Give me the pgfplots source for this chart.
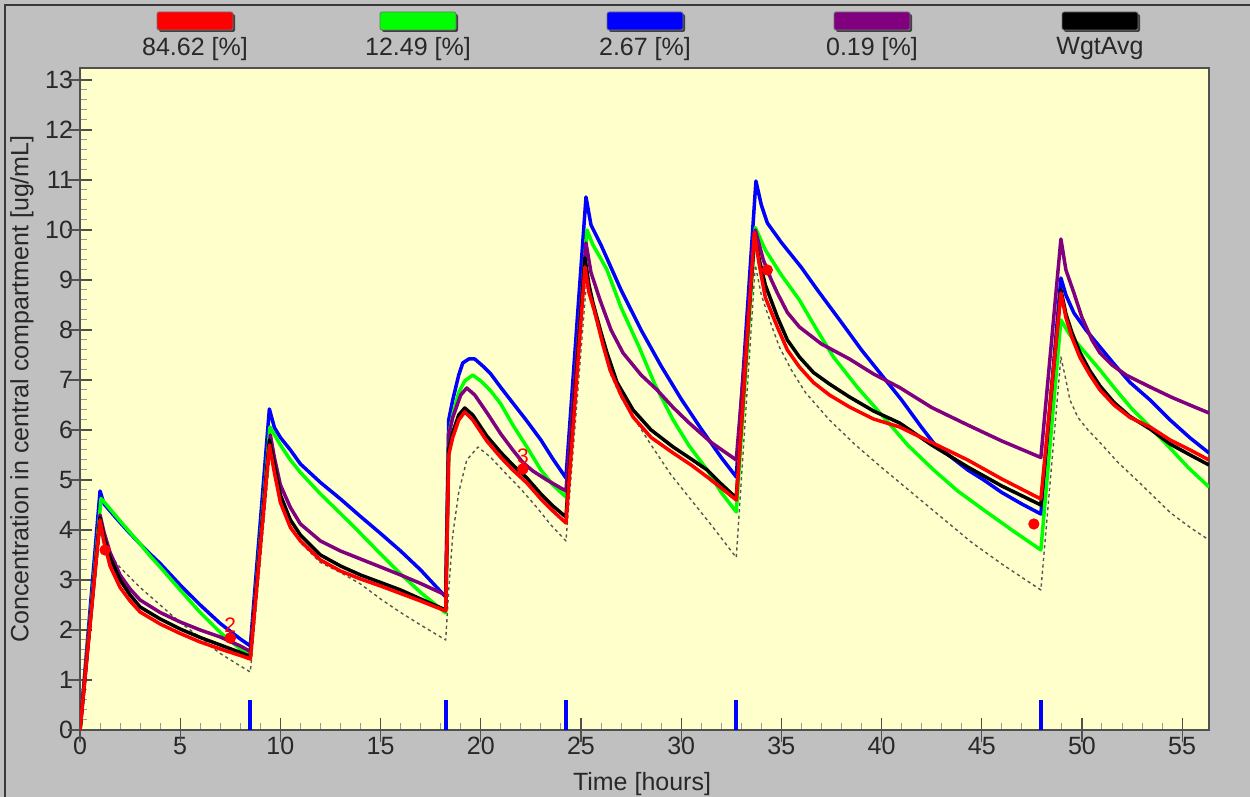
\documentclass[border=0pt]{standalone}
\usepackage{fontspec}
\setmainfont{Liberation Sans}
\usepackage{pgfplots}
\pgfplotsset{compat=1.18}
\definecolor{bggray}{RGB}{192,192,192}
\definecolor{plotbg}{RGB}{255,255,204}
\definecolor{axgray}{RGB}{80,80,80}
\definecolor{cRed}{RGB}{255,0,0}
\definecolor{cGreen}{RGB}{0,255,0}
\definecolor{cBlue}{RGB}{0,0,255}
\definecolor{cPurple}{RGB}{128,0,128}
\definecolor{txt}{RGB}{40,40,40}
\definecolor{dotc}{RGB}{85,85,85}
\newcommand{\lblfont}{\fontsize{12.5}{15}\selectfont}
\begin{document}
\begin{tikzpicture}
\path[use as bounding box] (-40pt,-33.5pt) rectangle (585pt,365pt);
\clip (-40pt,-33.5pt) rectangle (585pt,365pt);
\fill[bggray] (-40pt,-33.5pt) rectangle (585pt,365pt);
\begin{axis}[
  at={(0pt,0pt)}, anchor=south west,
  scale only axis, width=564.5pt, height=331pt,
  xmin=0, xmax=56.34, ymin=0, ymax=13.24,
  axis background/.style={fill=plotbg},
  axis line style={axgray, line width=0.8pt},
  xtick={0,5,...,55}, ytick={0,1,...,13},
  minor x tick num=4, minor y tick num=4,
  tick align=inside, xtick pos=bottom, ytick pos=left,
  major tick length=6pt, minor tick length=3.5pt,
  major tick style={axgray, line width=0.6pt},
  minor tick style={gray!80, line width=0.5pt},
  extra x ticks={0,5,...,55}, extra x tick labels={},
  extra x tick style={tick align=outside, major tick length=6pt},
  extra y ticks={0,1,...,13}, extra y tick labels={},
  extra y tick style={tick align=outside, major tick length=6pt},
  /pgf/number format/assume math mode=true,
  ticklabel style={font=\lblfont, text=txt},
  every axis plot/.append style={line join=round},
]
% dose markers
\addplot[ycomb, cBlue, line width=2pt, mark=none] coordinates {(0,0.5) (8.5,0.6) (18.25,0.6) (24.25,0.6) (32.75,0.6) (47.95,0.6)};
% dotted curve
\addplot[dotc, line width=0.7pt, dash pattern=on 1.6pt off 1.6pt] coordinates {
(0,0)(1.0,3.95)(1.3,3.6)(2,3.25)(3,2.85)(4,2.5)(5,2.15)(6,1.85)(6.5,1.68)(7,1.53)(8,1.28)(8.5,1.16)
(9.5,5.6)(10,4.6)(10.5,4.05)(11,3.75)(12,3.35)(13,3.15)(14,2.92)(15,2.62)(16,2.35)(17,2.1)(18.25,1.8)
(18.4,2.8)(18.6,3.9)(18.9,4.75)(19.3,5.4)(19.86,5.66)(20.5,5.45)(21.2,5.15)(22,4.82)(22.8,4.45)(23.5,4.1)(24.25,3.78)
(25.3,9.1)(25.6,8.4)(26,7.8)(26.5,7.1)(27,6.65)(27.8,6.14)(28.5,5.7)(29.5,5.1)(30.5,4.6)(31.5,4.1)(32.75,3.45)
(33.7,9.3)(34.0,8.7)(34.5,8.1)(34.9,7.66)(35.5,7.2)(36.2,6.75)(37.4,6.2)(38.7,5.7)(40,5.25)(41.5,4.75)(43,4.25)(44.5,3.75)(46,3.32)(47.95,2.8)
(48.95,7.46)(49.2,7.0)(49.4,6.6)(49.8,6.25)(50.3,6.0)(50.9,5.75)(51.8,5.35)(52.6,5.05)(53.4,4.74)(54.4,4.35)(55.4,4.05)(56.34,3.8)};
% blue 2.67
\addplot[cBlue, line width=1.75pt] coordinates {
(0,0)(1.0,4.78)(1.2,4.52)(1.5,4.38)(2,4.15)(2.5,3.93)(3,3.72)(3.5,3.52)(4,3.33)(5,2.9)(6,2.5)(7,2.13)(8,1.82)(8.5,1.68)
(9.45,6.42)(9.7,6.05)(10,5.85)(10.5,5.6)(11,5.32)(12,4.95)(13,4.62)(14,4.27)(15,3.93)(16,3.58)(17,3.2)(18.25,2.66)
(18.4,6.2)(18.6,6.6)(18.9,7.1)(19.1,7.34)(19.4,7.42)(19.7,7.42)(20.1,7.28)(20.5,7.12)(21,6.85)(21.6,6.54)(22.3,6.18)(23,5.8)(23.6,5.42)(24.25,5.04)
(25.25,10.66)(25.5,10.1)(26,9.7)(26.5,9.25)(27,8.8)(28,8.0)(29,7.28)(30,6.62)(31,6.02)(32,5.45)(32.75,5.06)
(33.73,10.98)(34.0,10.5)(34.3,10.14)(35,9.75)(36,9.25)(36.8,8.8)(38,8.15)(39,7.6)(39.8,7.2)(41,6.6)(42,6.05)(42.6,5.74)(43.5,5.45)(44.3,5.2)(45.1,5.0)(46,4.75)(47,4.52)(47.95,4.32)
(48.95,9.04)(49.2,8.7)(49.6,8.34)(50.2,8.0)(50.9,7.66)(51.6,7.32)(52.4,6.95)(53.4,6.6)(54.4,6.2)(55.4,5.84)(56.34,5.54)};
% green 12.49
\addplot[cGreen, line width=1.75pt] coordinates {
(0,0)(1.05,4.63)(1.5,4.42)(2,4.18)(2.5,3.95)(3,3.72)(3.5,3.48)(4,3.26)(5,2.8)(6,2.35)(7,1.95)(8,1.62)(8.5,1.5)
(9.48,6.06)(10,5.7)(10.5,5.4)(11,5.15)(12,4.72)(13,4.33)(14,3.93)(15,3.52)(16,3.12)(17,2.75)(18.25,2.34)
(18.4,5.9)(18.6,6.3)(18.9,6.75)(19.2,6.98)(19.6,7.1)(20,6.98)(20.5,6.78)(21,6.52)(21.6,6.1)(22.3,5.66)(23,5.2)(23.6,4.9)(24.25,4.66)
(25.3,10.0)(25.6,9.7)(26,9.42)(26.3,9.2)(27,8.45)(27.9,7.66)(28.7,6.9)(29.6,6.2)(30.4,5.68)(31.3,5.2)(32,4.75)(32.75,4.36)
(33.7,10.05)(34.2,9.6)(35,9.1)(35.9,8.6)(36.7,8.05)(37.6,7.46)(38.8,6.85)(40.1,6.26)(41.3,5.7)(42.6,5.2)(43.8,4.78)(45.1,4.4)(46.5,4.0)(47.95,3.6)
(48.95,8.2)(49.4,7.9)(50.05,7.6)(50.9,7.2)(51.7,6.8)(52.5,6.42)(53.4,6.06)(54.3,5.68)(55.3,5.25)(56.34,4.86)};
% purple 0.19
\addplot[cPurple, line width=1.75pt] coordinates {
(0,0)(1.0,4.3)(1.2,3.95)(1.5,3.55)(2,3.1)(2.5,2.82)(3,2.6)(4,2.35)(5,2.16)(6,2.0)(7,1.86)(8,1.68)(8.5,1.57)
(9.5,5.9)(9.7,5.45)(10,4.9)(10.5,4.45)(11,4.12)(12,3.78)(13,3.58)(14,3.42)(15,3.26)(16,3.1)(17,2.93)(18.25,2.7)
(18.4,5.9)(18.6,6.25)(19.0,6.7)(19.3,6.84)(19.7,6.7)(20.3,6.35)(21,5.92)(21.6,5.6)(22.1,5.35)(22.6,5.18)(23.3,5.0)(24.25,4.78)
(25.25,9.74)(25.5,9.15)(25.95,8.6)(26.5,8.0)(27.1,7.54)(28,7.1)(28.8,6.8)(29.6,6.45)(30.4,6.14)(31.5,5.75)(32.75,5.4)
(33.7,10.0)(33.9,9.7)(34.1,9.4)(34.5,9.0)(34.8,8.74)(35.3,8.35)(35.9,8.06)(37,7.72)(38.4,7.42)(39.6,7.12)(40.9,6.85)(42.5,6.45)(44.3,6.1)(46,5.78)(47.95,5.45)
(48.95,9.82)(49.2,9.2)(49.6,8.74)(50,8.25)(50.5,7.8)(50.9,7.54)(51.5,7.3)(52.2,7.1)(53.4,6.86)(54.5,6.65)(55.5,6.48)(56.34,6.34)};
% black WgtAvg
\addplot[black, line width=1.75pt] coordinates {
(0,0)(1.0,4.25)(1.2,3.85)(1.5,3.45)(2,3.0)(2.5,2.7)(3,2.46)(4,2.22)(5,2.02)(6,1.85)(7,1.7)(8,1.55)(8.5,1.47)
(9.45,5.8)(9.7,5.3)(10,4.7)(10.5,4.2)(11,3.9)(12,3.5)(13,3.28)(14,3.1)(15,2.95)(16,2.8)(17,2.62)(18.25,2.4)
(18.4,5.6)(18.6,5.95)(18.9,6.3)(19.2,6.44)(19.6,6.3)(20.3,5.88)(21,5.55)(21.6,5.3)(22.3,5.04)(23,4.72)(23.6,4.48)(24.25,4.26)
(25.2,9.44)(25.4,8.9)(25.6,8.54)(26,7.95)(26.3,7.54)(26.8,6.95)(27.6,6.4)(28.5,6.0)(29.6,5.66)(30.5,5.42)(31.3,5.2)(32,4.92)(32.75,4.64)
(33.65,9.9)(33.9,9.4)(34.2,8.9)(34.8,8.26)(35.3,7.8)(35.9,7.46)(36.6,7.15)(37.4,6.92)(38.4,6.66)(39.6,6.38)(40.9,6.14)(42.5,5.7)(44.3,5.26)(46,4.88)(47.95,4.5)
(48.95,8.8)(49.2,8.32)(49.5,7.95)(49.9,7.55)(50.4,7.18)(50.9,6.88)(51.6,6.55)(52.4,6.27)(53.4,6.02)(54.4,5.72)(55.4,5.5)(56.34,5.3)};
% red 84.62
\addplot[cRed, line width=1.75pt] coordinates {
(0,0)(1.0,4.2)(1.2,3.75)(1.5,3.28)(2,2.85)(2.5,2.58)(3,2.36)(4,2.12)(5,1.93)(6,1.76)(7,1.62)(8,1.49)(8.5,1.42)
(9.45,5.7)(9.7,5.15)(10,4.55)(10.5,4.05)(11,3.78)(12,3.4)(13,3.18)(14,3.02)(15,2.88)(16,2.73)(17,2.58)(18.25,2.38)
(18.4,5.5)(18.6,5.85)(18.9,6.2)(19.2,6.36)(19.6,6.2)(20.3,5.78)(21,5.45)(21.6,5.2)(22.3,4.94)(23,4.62)(23.6,4.38)(24.25,4.14)
(25.2,9.26)(25.4,8.75)(25.7,8.34)(26.1,7.7)(26.45,7.2)(27,6.7)(27.6,6.26)(28.5,5.85)(29.6,5.54)(30.5,5.3)(31.3,5.06)(32,4.84)(32.75,4.6)
(33.65,9.95)(33.9,9.3)(34.2,8.65)(34.8,8.06)(35.3,7.6)(35.9,7.26)(36.6,6.95)(37.4,6.7)(38.4,6.46)(39.6,6.22)(40.9,6.06)(42.5,5.75)(44.3,5.4)(46,5.02)(47.95,4.62)
(48.95,8.74)(49.2,8.25)(49.5,7.85)(49.9,7.45)(50.4,7.1)(50.9,6.8)(51.6,6.5)(52.4,6.25)(53.4,6.06)(54.4,5.8)(55.4,5.6)(56.34,5.4)};
% observations
\addplot[only marks, mark=*, mark size=2.6pt, cRed] coordinates {(1.25,3.6) (7.5,1.84) (22.1,5.22) (34.3,9.2) (47.6,4.12)};
\addplot[only marks, mark=*, mark size=2.6pt, cRed, nodes near coords, point meta=explicit symbolic,
  nodes near coords style={font=\fontsize{10.5}{12}\selectfont, text=cRed, anchor=south, inner sep=1pt, yshift=1.5pt}]
  coordinates {(7.5,1.84)[2] (22.1,5.22)[3]};
\end{axis}
\begin{scope}[x=0.5pt, y=-0.5pt, shift={(-40pt,365pt)}]
\draw[gray!45!black, line width=0.6pt] (5,800) -- (5,5) -- (1255,5);
\foreach \cx/\col/\lab in {195/cRed/{84.62 [\%]}, 418/cGreen/{12.49 [\%]}, 645/cBlue/{2.67 [\%]}, 872/cPurple/{0.19 [\%]}, 1100/black/{WgtAvg}} {
  \fill[black!75, rounded corners=1pt] (\cx-36,14) rectangle (\cx+40,32);
  \fill[\col, rounded corners=1pt] (\cx-38,12) rectangle (\cx+38,30);
  \draw[black!55, line width=0.4pt, rounded corners=1pt] (\cx-38,12) rectangle (\cx+38,30);
  \node[font=\lblfont, text=txt] at (\cx,49) {\lab};
}
\node[rotate=90, font=\lblfont, text=txt] at (22,389) {Concentration in central compartment [ug/mL]};
\node[font=\lblfont, text=txt] at (642,784) {Time [hours]};
\end{scope}
\end{tikzpicture}
\end{document}
